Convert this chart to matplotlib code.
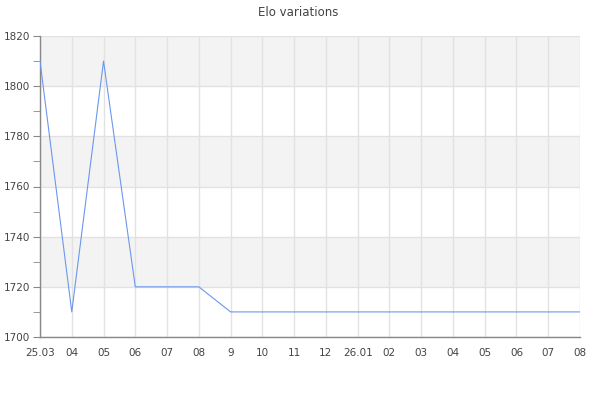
import numpy as np
import matplotlib.pyplot as plt
from matplotlib.ticker import MultipleLocator

# Elo values per tick
labels = ["25.03", "04", "05", "06", "07", "08", "9", "10", "11", "12",
          "26.01", "02", "03", "04", "05", "06", "07", "08"]
elo = [1810, 1710, 1810, 1720, 1720, 1720, 1710, 1710, 1710, 1710,
       1710, 1710, 1710, 1710, 1710, 1710, 1710, 1710]

fig = plt.figure(figsize=(6, 4), dpi=100)
ax = fig.add_axes([40/600, 63/400, 540/600, 301/400])

x = np.arange(len(labels))
ymin, ymax = 1700, 1820

# alternating bands
for i, lo in enumerate(range(ymin, ymax, 20)):
    if i % 2 == 1:
        ax.axhspan(lo, lo + 20, color="#f3f3f3", zorder=0, lw=0)

ax.plot(x, elo, color="#6c97ee", lw=0.8, zorder=3)

ax.set_xlim(0, len(labels) - 1)
ax.set_ylim(ymin, ymax)
ax.set_xticks(x)
ax.set_xticklabels(labels)
ax.yaxis.set_major_locator(MultipleLocator(20))
ax.yaxis.set_minor_locator(MultipleLocator(10))

ax.grid(True, which="major", color="#e2e2e2", lw=1, zorder=1)
ax.set_axisbelow(True)

for s in ["top", "right"]:
    ax.spines[s].set_visible(False)
for s in ["left", "bottom"]:
    ax.spines[s].set_color("#888888")
    ax.spines[s].set_linewidth(1)

ax.tick_params(axis="x", length=0, pad=8, labelsize=7.5, colors="#444444")
ax.tick_params(axis="y", which="major", length=5, color="#888888",
               labelsize=7.5, labelcolor="#444444", pad=2)
ax.tick_params(axis="y", which="minor", length=5, color="#888888")

fig.text(298/600, 1 - 12/400, "Elo variations", ha="center", va="center",
         fontsize=8.5, color="#444444")

fig.savefig("out.png", dpi=100)
